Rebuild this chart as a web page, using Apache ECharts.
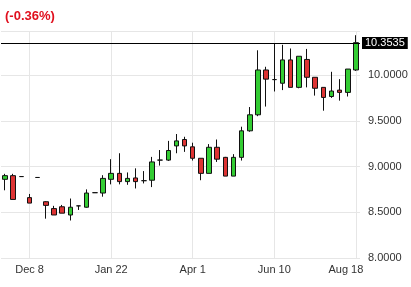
<!DOCTYPE html>
<html><head><meta charset="utf-8">
<script src="https://cdn.jsdelivr.net/npm/echarts@6/dist/echarts.min.js"></script>
<style>html,body{margin:0;padding:0;background:#fff}#c{width:411px;height:287px}</style>
</head><body><div id="c"></div>
<script>
// candle slots (weekly bars), labelled only at a few positions
const categories = ['c0','c1','c2','c3','c4','c5','c6','c7','c8','c9','c10','c11','c12','c13','c14','c15','c16','c17','c18','c19','c20','c21','c22','c23','c24','c25','c26','c27','c28','c29','c30','c31','c32','c33','c34','c35','c36','c37','c38','c39','c40','c41','c42','c43'];
const tickLabels = {3:'Dec 8', 13:'Jan 22', 23:'Apr 1', 33:'Jun 10', 43:'Aug 18'};

const opens  = [8.86,8.90,8.89,8.66,8.88,8.615,8.54,8.56,8.47,8.57,8.555,8.714,8.71,8.86,8.925,8.835,8.875,8.845,8.85,9.07,9.07,9.225,9.295,9.215,9.09,8.925,9.21,9.10,8.895,9.10,9.39,9.565,10.055,9.95,9.91,10.165,9.865,10.17,9.975,9.865,9.765,9.835,9.81,10.055];
const closes = [8.90,8.64,8.89,8.60,8.88,8.575,8.47,8.49,8.555,8.57,8.71,8.714,8.87,8.925,8.835,8.87,8.835,8.845,9.05,9.07,9.175,9.28,9.225,9.09,8.925,9.21,9.08,8.895,9.10,9.39,9.565,10.055,9.955,9.95,10.165,9.865,10.205,9.975,9.855,9.755,9.825,9.81,10.065,10.3535];
const lows   = [8.74,8.64,8.89,8.60,8.88,8.43,8.47,8.49,8.41,8.525,8.55,8.714,8.67,8.805,8.805,8.80,8.76,8.815,8.775,9.01,9.06,9.145,9.16,9.065,8.85,8.925,9.05,8.895,8.895,9.065,9.38,9.55,9.655,9.82,9.835,9.865,9.855,9.865,9.775,9.61,9.75,9.72,9.765,10.045];
const highs  = [8.92,8.92,8.89,8.70,8.88,8.62,8.57,8.58,8.65,8.57,8.75,8.714,8.905,9.08,9.145,8.935,8.98,8.95,9.105,9.18,9.28,9.355,9.325,9.26,9.09,9.245,9.295,9.105,9.135,9.435,9.65,10.27,10.09,10.345,10.33,10.29,10.205,10.285,9.975,9.865,10.035,9.955,10.065,10.435];

const yMin = 8, yMax = 10.481, yStep = 0.5;
const lastPrice = 10.3535;
const changeText = '(-0.36%)';

const candles = categories.map((c, i) => [opens[i], closes[i], lows[i], highs[i]]);
const FONT = '"Liberation Sans", Arial, sans-serif';
const isLabelled = (i) => tickLabels[i] !== undefined;

const chart = echarts.init(document.getElementById('c'), null, {renderer: 'canvas'});
chart.setOption({
  animation: false,
  backgroundColor: '#fff',
  title: {
    text: changeText, left: 0, top: 5,
    textStyle: {color: '#e0101e', fontSize: 13, fontWeight: 'bold', fontFamily: FONT}
  },
  grid: {left: 1, top: 31, width: 359, bottom: 29},
  xAxis: {
    type: 'category', data: categories, boundaryGap: true,
    axisLine: {show: false}, axisTick: {show: false},
    axisLabel: {
      interval: isLabelled, margin: 6,
      color: '#333', fontSize: 11, fontFamily: FONT,
      formatter: (v, i) => i === 43 ? '{last|' + tickLabels[i] + '}' : (tickLabels[i] || ''),
      rich: {last: {color: '#333', fontSize: 11, fontFamily: FONT, padding: [0, 20, 0, 0]}}
    },
    splitLine: {show: true, interval: isLabelled, alignWithLabel: true, lineStyle: {color: '#e6e6e6', width: 1}}
  },
  yAxis: {
    type: 'value', position: 'right', min: yMin, max: yMax, interval: yStep,
    axisLine: {show: false}, axisTick: {show: false},
    axisLabel: {
      showMaxLabel: false, margin: 8, color: '#333', fontSize: 11, fontFamily: FONT,
      formatter: (v) => v.toFixed(4)
    },
    splitLine: {show: true, lineStyle: {color: '#e6e6e6', width: 1}}
  },
  series: [{
    type: 'candlestick',
    data: candles,
    barWidth: 5,
    itemStyle: {
      color: '#33cc33', color0: '#dd3333',
      borderColor: '#111', borderColor0: '#111', borderWidth: 1
    },
    markLine: {
      silent: true, symbol: ['none', 'none'], animation: false,
      lineStyle: {color: '#000', width: 1, type: 'solid'},
      label: {
        show: true, position: 'end', distance: 2,
        formatter: () => lastPrice.toFixed(4),
        color: '#fff', backgroundColor: '#000', padding: [1, 3, 0, 3],
        fontSize: 11, fontFamily: FONT
      },
      data: [{yAxis: lastPrice}]
    }
  }]
});
</script>
</body></html>
